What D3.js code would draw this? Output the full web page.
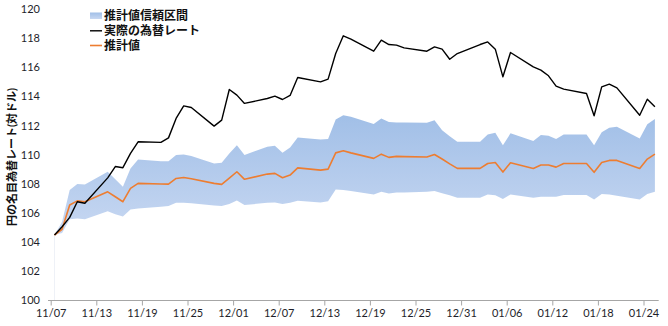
<!DOCTYPE html>
<html lang="ja"><head><meta charset="utf-8">
<script src="https://cdn.jsdelivr.net/npm/d3@7"></script>
<style>
html,body{margin:0;padding:0;background:#fff;}
svg{display:block;}
</style>
</head><body>
<svg id="c" width="668" height="326"></svg>
<script>
const dates = ["2016-11-07","2016-11-08","2016-11-09","2016-11-10","2016-11-11",
"2016-11-14","2016-11-15","2016-11-16","2016-11-17","2016-11-18",
"2016-11-21","2016-11-22","2016-11-23","2016-11-24","2016-11-25",
"2016-11-28","2016-11-29","2016-11-30","2016-12-01","2016-12-02",
"2016-12-05","2016-12-06","2016-12-07","2016-12-08","2016-12-09",
"2016-12-12","2016-12-13","2016-12-14","2016-12-15","2016-12-16",
"2016-12-19","2016-12-20","2016-12-21","2016-12-22","2016-12-23",
"2016-12-26","2016-12-27","2016-12-28","2016-12-29","2016-12-30",
"2017-01-02","2017-01-03","2017-01-04","2017-01-05","2017-01-06",
"2017-01-09","2017-01-10","2017-01-11","2017-01-12","2017-01-13",
"2017-01-16","2017-01-17","2017-01-18","2017-01-19","2017-01-20",
"2017-01-23","2017-01-24","2017-01-25"];

const actual = [104.47,105.04,105.68,106.76,106.65,
108.4,109.18,109.1,110.08,110.88,
110.84,111.15,112.49,113.35,113.24,
111.96,112.37,114.48,114.09,113.52,
113.86,114.02,113.79,114.07,115.3,
115.0,115.19,116.95,118.17,117.94,
117.11,117.87,117.57,117.53,117.34,
117.11,117.41,117.25,116.56,116.95,
117.57,117.75,117.25,115.35,117.02,
116.03,115.81,115.42,114.71,114.5,
114.2,112.67,114.66,114.85,114.59,
112.71,113.81,113.29];

const estimate = [104.47,104.86,106.53,106.82,106.76,
107.44,107.1,106.76,107.68,108.02,
107.98,107.97,108.36,108.43,108.34,
108.02,107.95,108.38,108.82,108.3,
108.66,108.71,108.41,108.59,109.09,
108.93,109.0,110.12,110.26,110.12,
109.74,110.03,109.81,109.88,109.86,
109.83,110.01,109.7,109.36,109.05,
109.05,109.39,109.46,108.8,109.44,
109.05,109.28,109.28,109.14,109.39,
109.39,108.78,109.46,109.6,109.6,
109.05,109.69,110.03];

const upper = [104.47,105.38,107.56,107.97,107.95,
108.82,108.3,107.79,109.05,109.67,
109.55,109.55,109.97,110.01,109.9,
109.39,109.44,110.08,110.65,109.97,
110.54,110.61,110.12,110.49,111.18,
111.04,111.07,112.42,112.71,112.6,
112.1,112.49,112.25,112.21,112.2,
112.19,112.37,111.68,111.27,110.88,
110.88,111.39,111.5,110.65,111.46,
110.93,111.34,111.29,111.07,111.39,
111.39,110.65,111.53,111.84,111.91,
111.11,112.08,112.44];

const lower = [104.47,104.6,105.55,105.61,105.55,
106.1,105.9,105.75,106.23,106.3,
106.41,106.46,106.69,106.69,106.66,
106.5,106.46,106.6,106.85,106.53,
106.69,106.71,106.6,106.69,106.82,
106.7,106.8,107.6,107.56,107.5,
107.26,107.44,107.33,107.4,107.4,
107.44,107.49,107.35,107.2,107.03,
107.03,107.26,107.2,106.94,107.26,
107.03,107.1,107.1,107.1,107.22,
107.22,106.92,107.29,107.25,107.17,
106.92,107.29,107.44];

const yTicks = [100,102,104,106,108,110,112,114,116,118,120];
const xTickLabels = ["11/07","11/13","11/19","11/25","12/01","12/07","12/13","12/19","12/25","12/31","01/06","01/12","01/18","01/24"];
const seriesNames = ["推計値信頼区間","実際の為替レート","推計値"];
const yTitle = "円の名目為替レート(対ドル)";

const parse = d3.utcParse("%Y-%m-%d");
const HALF = 12*3600*1000;
const data = dates.map((d,i)=>({t:new Date(parse(d).getTime()+HALF), a:actual[i], e:estimate[i], u:upper[i], l:lower[i]}));

const svg = d3.select("#c");
const x = d3.scaleUtc().domain([parse("2016-11-07"), parse("2017-01-26")]).range([50.7, 658.7]);
const y = d3.scaleLinear().domain([100,120]).range([300, 9.2]);

const font = "Lato, 'Noto Sans', sans-serif";
const jfont = "Lato, 'Noto Sans CJK JP', sans-serif";

// gradient
const defs = svg.append("defs");
const g = defs.append("linearGradient").attr("id","bandGrad").attr("x1",0).attr("y1",0).attr("x2",0).attr("y2",1);
g.append("stop").attr("offset",0).attr("stop-color","#a1bfe7");
g.append("stop").attr("offset",1).attr("stop-color","#c8d8f2");

// band
svg.append("path").datum(data)
  .attr("fill","url(#bandGrad)")
  .attr("d", d3.area().x(d=>x(d.t)).y0(d=>y(d.l)).y1(d=>y(d.u)));

// faint drop line at first point
svg.append("line")
  .attr("x1", x(data[0].t)).attr("x2", x(data[0].t))
  .attr("y1", y(data[0].a)).attr("y2", y(100))
  .attr("stroke","#eef1f7").attr("stroke-width",1);

// x axis
const tickDates = xTickLabels.map((s,i)=>d3.utcDay.offset(parse("2016-11-07"), i*6));
const xAxis = d3.axisBottom(x).tickValues(tickDates).tickFormat((d,i)=>xTickLabels[i]).tickSize(5).tickSizeOuter(0);
const xg = svg.append("g").attr("transform","translate(0,300.5)").call(xAxis);
xg.select(".domain").attr("stroke","#a6a6a6").attr("d","M48,0H658.7");
xg.selectAll(".tick line").attr("stroke","#a6a6a6");
xg.selectAll(".tick text").attr("font-family",font).attr("font-size","11px").attr("fill","#1e1e2a").attr("dy","0.95em").attr("y",6);

// y axis labels only
const yAxis = d3.axisLeft(y).tickValues(yTicks).tickSize(0).tickPadding(0);
const yg = svg.append("g").attr("transform","translate(40,0)").call(yAxis);
yg.select(".domain").remove();
yg.selectAll(".tick text").attr("font-family",font).attr("font-size","11px").attr("fill","#1e1e2a");

// lines
svg.append("path").datum(data).attr("fill","none").attr("stroke","#ed7d31").attr("stroke-width",1.6)
  .attr("stroke-linejoin","round")
  .attr("d", d3.line().x(d=>x(d.t)).y(d=>y(d.e)));
svg.append("path").datum(data).attr("fill","none").attr("stroke","#000").attr("stroke-width",1.4)
  .attr("stroke-linejoin","round")
  .attr("d", d3.line().x(d=>x(d.t)).y(d=>y(d.a)));

// y title
svg.append("text").attr("transform","translate(16,157) rotate(-90)")
  .attr("text-anchor","middle").attr("font-family",jfont).attr("font-size","11px").attr("font-weight","bold")
  .attr("fill","#111").text(yTitle);

// legend
const lg = svg.append("g");
const rows = [15.5, 30.8, 45.5];
lg.append("rect").attr("x",90).attr("y",rows[0]-3).attr("width",12).attr("height",6.5).attr("fill","url(#bandGrad)");
lg.append("line").attr("x1",90).attr("x2",102).attr("y1",rows[1]).attr("y2",rows[1]).attr("stroke","#000").attr("stroke-width",1.4);
lg.append("line").attr("x1",90).attr("x2",102).attr("y1",rows[2]).attr("y2",rows[2]).attr("stroke","#ed7d31").attr("stroke-width",1.6);
seriesNames.forEach((s,i)=>{
  lg.append("text").attr("x",104).attr("y",rows[i]).attr("dy","0.36em")
    .attr("font-family",jfont).attr("font-size","12px").attr("font-weight","bold").attr("fill","#111").text(s);
});
</script>
</body></html>
